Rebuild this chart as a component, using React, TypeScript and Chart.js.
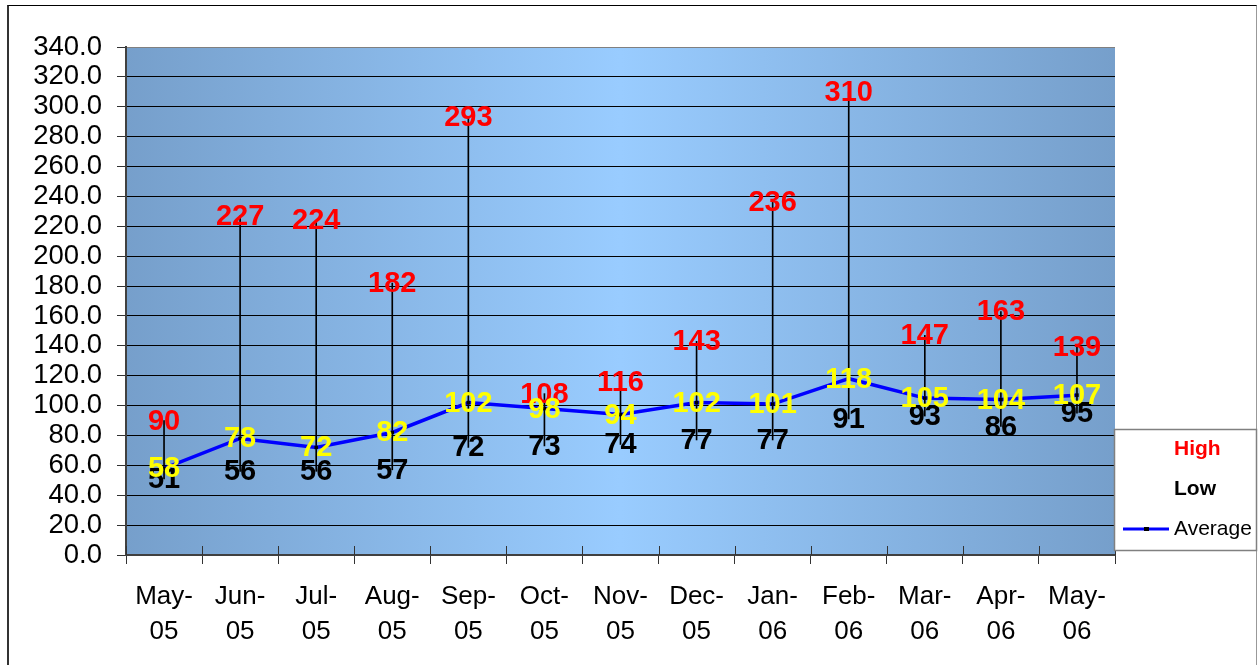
import React, { useEffect, useRef } from "react";
import { Chart, registerables } from "chart.js";

Chart.register(...registerables);

const categories: string[][] = [
  ["May-", "05"], ["Jun-", "05"], ["Jul-", "05"], ["Aug-", "05"], ["Sep-", "05"],
  ["Oct-", "05"], ["Nov-", "05"], ["Dec-", "05"], ["Jan-", "06"], ["Feb-", "06"],
  ["Mar-", "06"], ["Apr-", "06"], ["May-", "06"],
];
const highValues = [90, 227, 224, 182, 293, 108, 116, 143, 236, 310, 147, 163, 139];
const lowValues = [51, 56, 56, 57, 72, 73, 74, 77, 77, 91, 93, 86, 95];
const averageValues = [58, 78, 72, 82, 102, 98, 94, 102, 101, 118, 105, 104, 107];
const yMin = 0;
const yMax = 340;
const yStep = 20;
const legendLabels = ["High", "Low", "Average"];

const FONT = "'Liberation Sans', Arial, sans-serif";

const backgroundPlugin = {
  id: "bgGradient",
  beforeDraw(chart: any) {
    const { ctx, chartArea } = chart;
    const { left, right, top, bottom } = chartArea;
    const g = ctx.createLinearGradient(left, 0, right, 0);
    g.addColorStop(0, "#769fcb");
    g.addColorStop(0.5, "#99ccff");
    g.addColorStop(1, "#769fcb");
    ctx.save();
    ctx.fillStyle = g;
    ctx.fillRect(left, top, right - left, bottom - top);
    ctx.restore();
  },
};

const innerTicksPlugin = {
  id: "innerTicks",
  beforeDatasetsDraw(chart: any) {
    const { ctx, chartArea } = chart;
    const xs = chart.scales.x;
    const n = categories.length;
    const half = (xs.getPixelForValue(1) - xs.getPixelForValue(0)) / 2;
    ctx.save();
    ctx.strokeStyle = "#333";
    ctx.lineWidth = 1;
    for (let i = 0; i <= n; i++) {
      const x = Math.round(xs.getPixelForValue(i) - half) + 0.5;
      ctx.beginPath();
      ctx.moveTo(x, chartArea.bottom - 9);
      ctx.lineTo(x, chartArea.bottom);
      ctx.stroke();
    }
    ctx.restore();
  },
};

const labelsPlugin = {
  id: "pointLabels",
  afterDatasetsDraw(chart: any) {
    const { ctx } = chart;
    const specs = [
      { idx: 1, color: "#ff0000", values: highValues },
      { idx: 2, color: "#000000", values: lowValues },
      { idx: 0, color: "#ffff00", values: averageValues },
    ];
    ctx.save();
    ctx.font = `bold 29px ${FONT}`;
    ctx.textAlign = "center";
    ctx.textBaseline = "middle";
    for (const s of specs) {
      const meta = chart.getDatasetMeta(s.idx);
      ctx.fillStyle = s.color;
      meta.data.forEach((el: any, i: number) => {
        ctx.fillText(String(s.values[i]), el.x, el.y + 1);
      });
    }
    ctx.restore();
  },
};

const legendPlugin = {
  id: "customLegend",
  afterDraw(chart: any) {
    const { ctx } = chart;
    const bx = 1114.5, by = 429.5, bw = 142, bh = 121;
    ctx.save();
    ctx.fillStyle = "#ffffff";
    ctx.fillRect(bx, by, bw, bh);
    ctx.strokeStyle = "#808080";
    ctx.lineWidth = 1.5;
    ctx.strokeRect(bx, by, bw, bh);
    ctx.textBaseline = "middle";
    ctx.textAlign = "left";
    ctx.font = `bold 21px ${FONT}`;
    ctx.fillStyle = "#ff0000";
    ctx.fillText(legendLabels[0], 1174, 449);
    ctx.fillStyle = "#000000";
    ctx.fillText(legendLabels[1], 1174, 489);
    ctx.font = `21px ${FONT}`;
    ctx.fillText(legendLabels[2], 1174, 529);
    ctx.strokeStyle = "#0000ff";
    ctx.lineWidth = 3;
    ctx.beginPath();
    ctx.moveTo(1123, 529);
    ctx.lineTo(1169, 529);
    ctx.stroke();
    ctx.fillStyle = "#000";
    ctx.fillRect(1144, 527, 5, 4);
    ctx.restore();
  },
};

export default function App() {
  const canvasRef = useRef<HTMLCanvasElement | null>(null);

  useEffect(() => {
    const canvas = canvasRef.current;
    if (!canvas) return;
    const chart = new Chart(canvas, {
      type: "bar",
      data: {
        labels: categories,
        datasets: [
          {
            type: "line",
            label: "Average",
            data: averageValues,
            borderColor: "#0000ff",
            borderWidth: 3.5,
            pointStyle: "rect",
            pointRadius: 2.5,
            pointBackgroundColor: "#000",
            pointBorderWidth: 0,
            tension: 0,
            order: 0,
          } as any,
          {
            type: "line",
            label: "High",
            data: highValues,
            showLine: false,
            pointRadius: 0,
            order: 1,
          } as any,
          {
            type: "line",
            label: "Low",
            data: lowValues,
            showLine: false,
            pointRadius: 0,
            order: 1,
          } as any,
          {
            type: "bar",
            label: "HighLow",
            data: highValues.map((h, i) => [lowValues[i], h]),
            backgroundColor: "#000",
            barThickness: 1,
            order: 2,
          } as any,
        ],
      },
      options: {
        responsive: false,
        animation: false,
        devicePixelRatio: 1,
        layout: { padding: { left: 0, top: 47, right: 143, bottom: 0 } },
        plugins: {
          legend: { display: false },
          tooltip: { enabled: false },
        },
        scales: {
          x: {
            offset: true,
            grid: {
              display: true,
              offset: true,
              drawOnChartArea: false,
              tickLength: 9,
              tickColor: "#333",
            },
            border: { color: "#404040", width: 2 },
            ticks: {
              autoSkip: false,
              maxRotation: 0,
              minRotation: 0,
              color: "#000",
              padding: 15,
              font: { family: FONT, size: 26, lineHeight: 1.35 },
            },
            afterFit(scale: any) {
              scale.height = 110;
            },
          },
          y: {
            min: yMin,
            max: yMax,
            grid: {
              color: (c: any) => (c.tick && c.tick.value === yMax ? "#808080" : "#000"),
              tickLength: 9,
              tickColor: "#333",
              lineWidth: 1,
            },
            border: { color: "#404040", width: 2 },
            ticks: {
              stepSize: yStep,
              autoSkip: false,
              color: "#000",
              padding: 15,
              font: { family: FONT, size: 27.5, lineHeight: 1 },
              callback: (v: any) => Number(v).toFixed(1),
            },
            afterFit(scale: any) {
              scale.width = 126;
            },
          },
        },
      } as any,
      plugins: [backgroundPlugin, innerTicksPlugin, labelsPlugin, legendPlugin],
    });
    return () => chart.destroy();
  }, []);

  return (
    <div style={{ position: "fixed", left: 0, top: 0, width: 1258, height: 665, background: "#fff", overflow: "hidden" }}>
      <div
        style={{
          position: "absolute",
          left: 7,
          top: 5,
          width: 1247,
          height: 700,
          borderLeft: "2px solid #333",
          borderTop: "1px solid #000",
          borderRight: "1px solid #999",
        }}
      />
      <canvas ref={canvasRef} width={1258} height={665} style={{ position: "absolute", left: 0, top: 0 }} />
    </div>
  );
}
